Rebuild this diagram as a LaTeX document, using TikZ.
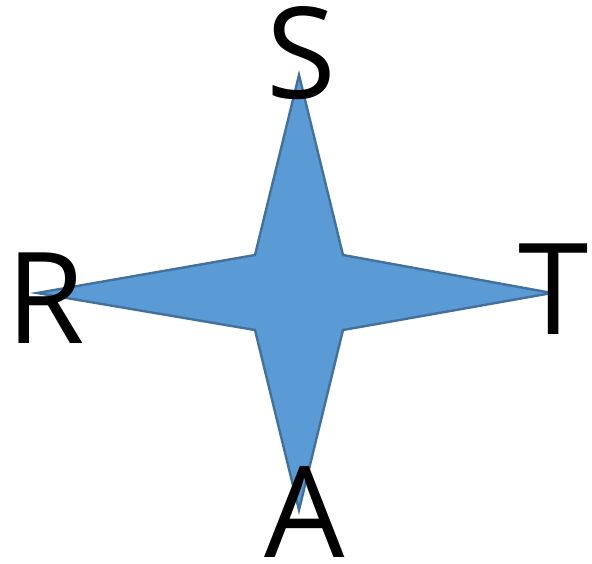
\documentclass[tikz,border=0pt]{standalone}
\usepackage{fontspec}
\setmainfont{Open Sans}
\definecolor{starfill}{HTML}{5B9BD5}
\definecolor{starline}{HTML}{41719C}
\begin{document}
\begin{tikzpicture}[x=1pt,y=-1pt,
  lbl/.style={anchor=base,inner sep=0pt,font=\fontsize{127}{127}\selectfont},
  star/.style={fill=starfill,draw=starline,line width=2.4pt,line join=miter}]
\useasboundingbox (0,0) rectangle (592,563);
\coordinate (top) at (299,75);
\coordinate (rt) at (552,293);
\coordinate (bot) at (299,510);
\coordinate (lt) at (37,293);
\coordinate (i1) at (343,255);
\coordinate (i2) at (343,330);
\coordinate (i3) at (255,330);
\coordinate (i4) at (255,255);
\draw[star] (top) -- (i1) -- (rt) -- (i2) -- (bot) -- (i3) -- (lt) -- (i4) -- cycle;
\node[lbl] (S) at (301,98) {S};
\node[lbl] (R) at (46,343) {R};
\node[lbl] (T) at (554,334) {T};
\node[lbl] (A) at (305,557) {A};
\end{tikzpicture}
\end{document}
